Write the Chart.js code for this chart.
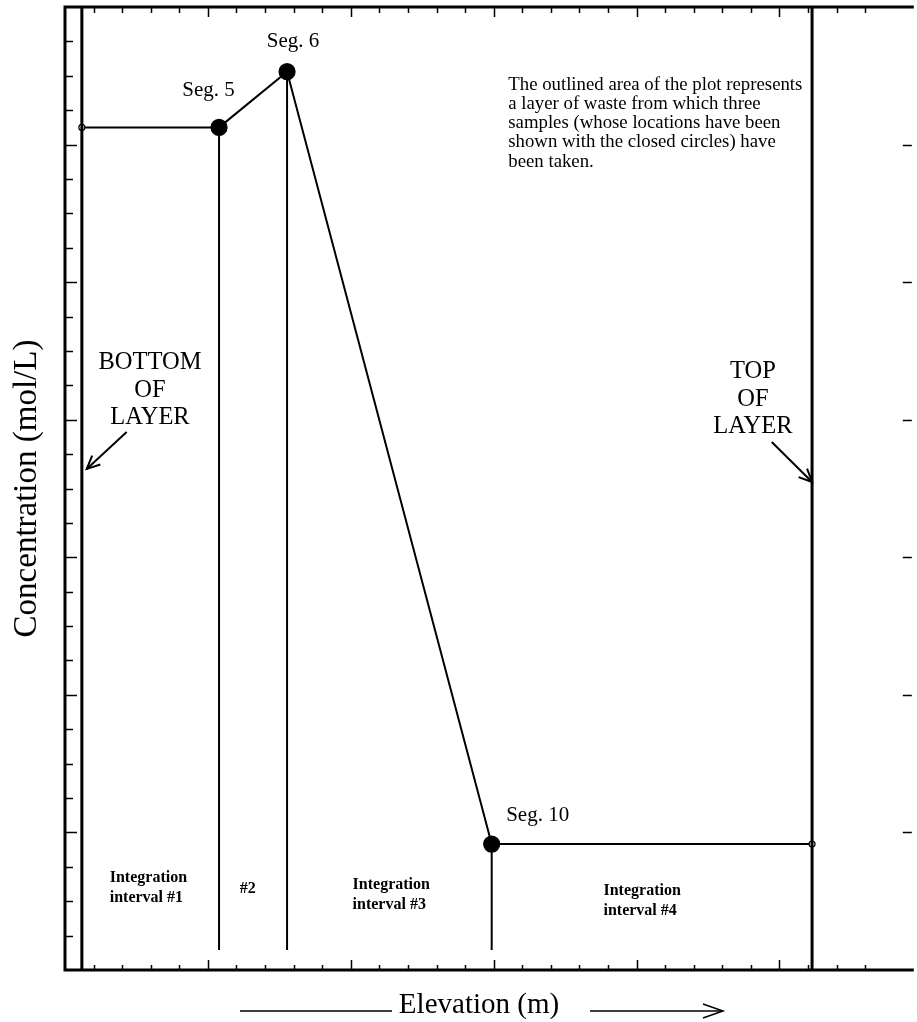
<!DOCTYPE html>
<html>
<head>
<meta charset="utf-8">
<script src="https://cdn.jsdelivr.net/npm/chart.js@4/dist/chart.umd.min.js"></script>
<style>
  html, body { margin: 0; padding: 0; background: #fff; }
  #wrap { width: 917px; height: 1022px; }
</style>
</head>
<body>
<div id="wrap"><canvas id="profile" width="917" height="1022"></canvas></div>
<script>
// Axis extents (elevation and concentration units, one minor tick per unit)
const xRange = [0, 29.63];
const yRange = [0, 28];

// Samples taken through the waste layer
const sampleNames = ['Seg. 5', 'Seg. 6', 'Seg. 10'];
const sampleElevation = [5.39, 7.77, 14.93];
const sampleConcentration = [24.5, 26.12, 3.66];

// Layer boundaries and the foot of the interval dividers
const layerBottom = 0.59;
const layerTop = 26.14;
const dropFloor = 0.58;

// Text blocks
const intervalNames = [['Integration', 'interval #1'], ['#2'], ['Integration', 'interval #3'], ['Integration', 'interval #4']];
const boundaryNames = [['BOTTOM', 'OF', 'LAYER'], ['TOP', 'OF', 'LAYER']];
const noteLines = [
  'The outlined area of the plot represents',
  'a layer of waste from which three',
  'samples (whose locations have been',
  'shown with the closed circles) have',
  'been taken.'
];
const xTitle = 'Elevation (m)';
const yTitle = 'Concentration (mol/L)';

// Concentration profile: constant beyond the outer samples out to each layer boundary
const lastConc = sampleConcentration[sampleConcentration.length - 1];
const profile = [{ x: layerBottom, y: sampleConcentration[0] }]
  .concat(sampleElevation.map((x, i) => ({ x: x, y: sampleConcentration[i] })))
  .concat([{ x: layerTop, y: lastConc }]);

const SERIF = '"Liberation Serif", "Times New Roman", serif';

const dividerSets = sampleElevation.map((x, i) => ({
  data: [{ x: x, y: sampleConcentration[i] }, { x: x, y: dropFloor }],
  borderColor: '#000', borderWidth: 2, pointRadius: 0, showLine: true, fill: false
}));

const boundarySets = [layerBottom, layerTop].map(x => ({
  data: [{ x: x, y: yRange[0] }, { x: x, y: yRange[1] }],
  borderColor: '#000', borderWidth: 3, pointRadius: 0, showLine: true, fill: false
}));

const profileSet = {
  data: profile,
  borderColor: '#000',
  borderWidth: 2,
  showLine: true,
  fill: false,
  pointRadius: profile.map((p, i) => (i === 0 || i === profile.length - 1) ? 3 : 8),
  pointBackgroundColor: profile.map((p, i) => (i === 0 || i === profile.length - 1) ? '#fff' : '#000'),
  pointBorderColor: '#000',
  pointBorderWidth: 1.2
};

function drawArrowHead(ctx, x0, y0, x1, y1, len, half) {
  const a = Math.atan2(y1 - y0, x1 - x0);
  const ca = Math.cos(a), sa = Math.sin(a);
  ctx.beginPath();
  ctx.moveTo(x1 - len * ca - half * sa, y1 - len * sa + half * ca);
  ctx.lineTo(x1, y1);
  ctx.lineTo(x1 - len * ca + half * sa, y1 - len * sa - half * ca);
  ctx.stroke();
}

// Frame, inward tick marks, annotations and the elevation title
const framePlugin = {
  id: 'frame',
  afterDatasetsDraw(chart) {
    const { ctx, chartArea: a, scales: { x, y } } = chart;
    const px = v => x.getPixelForValue(v);
    const py = v => y.getPixelForValue(v);
    ctx.save();
    ctx.strokeStyle = '#000';
    ctx.fillStyle = '#000';
    ctx.lineCap = 'butt';

    // frame (right side runs past the canvas edge)
    ctx.lineWidth = 3;
    ctx.beginPath();
    ctx.moveTo(a.right + 2, a.top);
    ctx.lineTo(a.left, a.top);
    ctx.lineTo(a.left, a.bottom);
    ctx.lineTo(a.right + 2, a.bottom);
    ctx.stroke();

    // ticks
    ctx.lineWidth = 1.5;
    ctx.beginPath();
    x.ticks.forEach(t => {
      if (!Number.isInteger(t.value) || t.value <= xRange[0]) return;
      const major = t.value % 5 === 0;
      const p = Math.round(px(t.value)) + 0.5;
      ctx.moveTo(p, a.bottom); ctx.lineTo(p, a.bottom - (major ? 10 : 5));
      ctx.moveTo(p, a.top); ctx.lineTo(p, a.top + (major ? 10 : 6));
    });
    y.ticks.forEach(t => {
      if (!Number.isInteger(t.value) || t.value <= yRange[0] || t.value >= yRange[1]) return;
      const major = t.value % 4 === 0;
      const p = Math.round(py(t.value)) + 0.5;
      ctx.moveTo(a.left, p); ctx.lineTo(a.left + (major ? 12 : 8), p);
      if (major) { ctx.moveTo(a.right, p); ctx.lineTo(a.right - 9, p); }
    });
    ctx.stroke();

    // sample labels
    ctx.font = '21px ' + SERIF;
    ctx.textAlign = 'center';
    ctx.textBaseline = 'alphabetic';
    const segOffsets = [[-10.5, -31], [6, -25], [46, -23]];
    sampleNames.forEach((name, i) => {
      ctx.fillText(name, px(sampleElevation[i]) + segOffsets[i][0], py(sampleConcentration[i]) + segOffsets[i][1]);
    });

    // explanatory note
    ctx.font = '18.8px ' + SERIF;
    ctx.textAlign = 'left';
    noteLines.forEach((line, i) => ctx.fillText(line, px(15.51), py(25.59) + i * 19.2));

    // integration interval labels
    ctx.font = 'bold 16px ' + SERIF;
    const intervalAnchors = [[1.565, 2.568], [6.111, 2.248], [10.063, 2.364], [18.842, 2.181]];
    intervalNames.forEach((lines, i) => {
      lines.forEach((line, j) => ctx.fillText(line, px(intervalAnchors[i][0]), py(intervalAnchors[i][1]) + j * 20));
    });

    // layer boundary call-outs
    ctx.font = '24.5px ' + SERIF;
    ctx.textAlign = 'center';
    const boundaryAnchors = [[2.974, 17.467], [24.07, 17.206]];
    boundaryNames.forEach((lines, i) => {
      lines.forEach((line, j) => ctx.fillText(line, px(boundaryAnchors[i][0]), py(boundaryAnchors[i][1]) + j * 27.6));
    });
    ctx.lineWidth = 2;
    const arrows = [[2.157, 15.644, layerBottom + 0.17, 14.568], [24.73, 15.353, layerTop, 14.19]];
    arrows.forEach(([x0, y0, x1, y1]) => {
      const X0 = px(x0), Y0 = py(y0), X1 = px(x1), Y1 = py(y1);
      ctx.beginPath(); ctx.moveTo(X0, Y0); ctx.lineTo(X1, Y1); ctx.stroke();
      drawArrowHead(ctx, X0, Y0, X1, Y1, 13, 6);
    });

    // elevation title with its direction arrow
    const tx = 479, ty = a.bottom + 42.7;
    ctx.font = '29px ' + SERIF;
    ctx.textAlign = 'center';
    ctx.fillText(xTitle, tx, ty);
    const ly = a.bottom + 41;
    ctx.lineWidth = 1.5;
    ctx.beginPath();
    ctx.moveTo(tx - 239, ly); ctx.lineTo(tx - 87, ly);
    ctx.moveTo(tx + 111, ly); ctx.lineTo(tx + 244, ly);
    ctx.stroke();
    drawArrowHead(ctx, tx + 111, ly, tx + 244, ly, 20, 7);

    ctx.restore();
  }
};

new Chart(document.getElementById('profile'), {
  type: 'scatter',
  data: { datasets: boundarySets.concat(dividerSets).concat([profileSet]) },
  options: {
    responsive: false,
    animation: false,
    devicePixelRatio: 1,
    layout: { padding: { left: 7.7, right: 0, top: 7, bottom: 52 } },
    plugins: { legend: { display: false }, tooltip: { enabled: false } },
    scales: {
      x: {
        type: 'linear', position: 'bottom', min: xRange[0], max: xRange[1],
        ticks: { display: false, stepSize: 1 },
        grid: { display: false, drawTicks: false },
        border: { display: false }
      },
      y: {
        type: 'linear', position: 'left', min: yRange[0], max: yRange[1],
        ticks: { display: false, stepSize: 1 },
        grid: { display: false, drawTicks: false },
        border: { display: false },
        title: {
          display: true, text: yTitle, color: '#000',
          font: { family: SERIF, size: 33, weight: 'normal' },
          padding: { top: 0, bottom: 17.7 }
        }
      }
    }
  },
  plugins: [framePlugin]
});
</script>
</body>
</html>
